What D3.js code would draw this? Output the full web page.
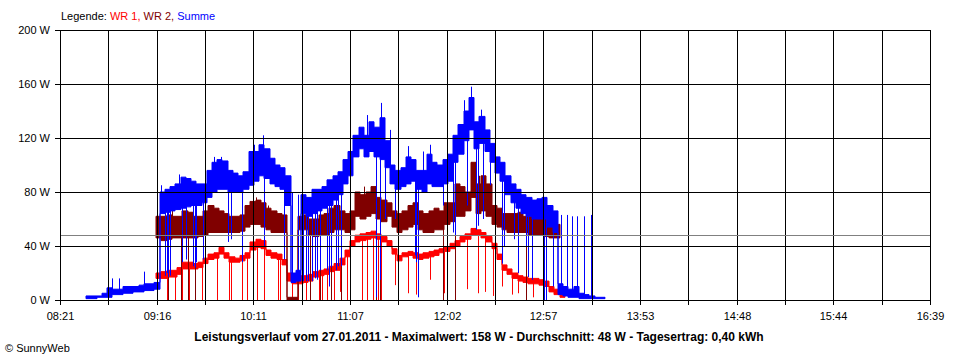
<!DOCTYPE html>
<html><head><meta charset="utf-8">
<script src="https://cdn.jsdelivr.net/npm/d3@7"></script>
<style>
body{margin:0;background:#fff;}
svg text{font-family:"Liberation Sans",Arial,sans-serif;}
</style></head><body>
<svg id="c" width="960" height="360"></svg>
<script>
// ---------- data ----------
const yTicks = [0, 40, 80, 120, 160, 200];
const xTickLabels = ["08:21","09:16","10:11","11:07","12:02","12:57","13:53","14:48","15:44","16:39"];
const stepMin = 3;

// Summe (blue): min/max per 3-minute bin
const sumStart = "08:36";
const sumLo = [1,1,2,2,2,4,4,5,5,6, 6,7,7,8,64,65,66,67,68,69,
  70,70,72,76,80,82,82,80,80,80, 82,85,88,92,90,86,84,82,70,13,
  14,64,62,64,66,68,70,74,78,86, 92,106,112,106,110,106,104,98,86,82,
  84,86,88,82,80,86,84,84,86,88, 102,108,118,126,112,116,110,102,94,88,
  78,72,68,64,62,60,60,60,54,50, 4,3,2,2,1,1,1,1,1];
const sumHi = [3,3,3,5,9,8,8,10,10,10, 11,12,12,13,80,82,84,86,91,90,
  88,86,86,96,102,104,103,96,94,92, 95,110,110,115,112,105,100,98,92,20,
  22,78,76,82,82,84,89,92,95,104, 110,122,128,122,132,128,135,118,100,96,
  98,106,104,96,96,108,102,100,104,108, 122,130,140,150,132,136,126,116,106,102,
  92,86,82,78,76,74,75,76,70,66, 12,10,8,10,5,4,3,2,2];

// WR 1 (red) and WR 2 (dark red)
const wrStart = "09:16";
const wr1Lo = [16,16,17,17,19,23,23,23,24,27, 30,31,34,31,28,28,29,31,37,39,
  38,33,31,30,26,14,12,12,13,14, 17,18,19,21,22,26,32,40,43,44,
  45,46,45,43,40,34,29,32,33,31, 30,31,32,33,35,36,38,40,43,45,
  48,48,46,43,38,30,22,19,16,14, 13,12,12,11,10,6,4,2];
const wr1Hi = [20,21,22,22,24,28,28,27,28,31, 34,35,39,35,32,31,33,35,43,45,
  44,37,35,34,30,20,18,18,18,19, 21,22,23,25,27,31,37,44,48,49,
  50,51,49,47,44,38,33,35,36,35, 34,35,36,37,38,39,42,44,47,49,
  53,52,50,47,42,34,26,23,20,18, 17,16,16,15,14,10,8,5];
const wr2Lo = [46,44,45,46,46,46,46,46,47,48, 50,50,50,50,50,50,51,54,56,56,
  54,52,50,50,50,0,0,52,52,48, 47,48,48,50,52,52,50,52,62,60,
  62,64,60,58,62,54,50,52,54,56, 52,50,50,52,52,56,58,62,62,66,
  76,64,66,62,56,54,52,50,50,50, 50,48,48,48,47,46,46];
const wr2Hi = [62,62,63,62,62,66,65,62,62,66, 70,68,66,64,62,62,63,70,73,74,
  72,68,66,64,63,2,2,62,63,60, 60,63,64,68,70,66,64,66,80,78,
  80,84,76,74,72,66,64,66,70,72, 66,64,66,68,66,72,72,86,84,80,
  102,86,92,86,70,68,64,64,64,65, 62,62,60,60,60,58,56];

// single short excursions (spikes / dips)
const sumSpikeTimes = ["08:51","08:55","09:09","09:19","09:21","09:22","09:23","09:24","09:29","09:31",
  "09:33","09:37","09:38","09:39","09:43","09:49","09:53","09:57","09:59","10:05",
  "10:12","10:17","10:18","10:20","10:29","10:34","10:37","10:40","10:42","10:43",
  "10:45","10:47","10:48","10:50","10:54","10:55","10:56","10:59","11:00","11:02",
  "11:07","11:12","11:17","11:22","11:24","11:25","11:27","11:30","11:33","11:40",
  "11:44","11:45","11:46","11:49","11:53","12:00","12:06","12:07","12:09","12:12",
  "12:14","12:16","12:19","12:20","12:22","12:23","12:27","12:34","12:35","12:41",
  "12:43","12:48","12:49","12:51","12:58","12:59","13:03","13:08","13:11","13:14",
  "13:17","13:21","13:25"];
const sumSpikeValues = [16,16,21,85,18,20,17,18,93,28,
  30,25,24,28,30,106,106,43,45,28,
  115,122,40,108,30,80,78,14,14,14,
  14,16,15,22,22,10,24,22,25,25,
  30,128,137,2,15,146,60,126,60,114,
  33,28,2,110,115,70,50,48,128,148,
  70,158,52,55,141,60,85,27,40,45,
  20,40,17,15,0,0,10,63,63,62,
  62,62,63];
const wr1DipTimes = ["09:22","09:27","09:31","09:35","09:42","09:51","09:58","09:59","10:05","10:08",
  "10:14","10:18","10:26","10:27","10:34","10:37","10:42","10:44","10:49","10:51",
  "10:54","10:58","11:01","11:05","11:07","11:14","11:17","11:20","11:22","11:23",
  "11:25","11:33","11:40","11:45","11:53","12:01","12:07","12:14","12:20","12:24",
  "12:29","12:34","12:40","12:43","12:48","12:52"];
const wr1DipValues = [0,0,0,0,0,0,0,0,0,0, 0,0,0,0,0,0,0,0,0,0,
  0,0,6,0,10,0,0,0,0,0, 0,11,5,4,15,5,3,8,5,6, 3,10,4,5,3,2];
const wr2DipTimes = ["09:23","09:25","09:30","09:34","09:38","09:47","10:13","10:20","10:44","10:50",
  "10:56","11:02","11:15","11:22","11:24","12:00","12:07","12:14","12:21","12:48"];
const wr2DipValues = [0,66,0,0,0,70,76,70,0,0, 0,0,84,0,0,0,0,104,92,0];

const averageW = 48;
const legendParts = [["Legende: ","#000"],["WR 1, ","#ff0000"],["WR 2, ","#800000"],["Summe","#0000ff"]];
const titleText = "Leistungsverlauf vom 27.01.2011 - Maximalwert: 158 W - Durchschnitt: 48 W - Tagesertrag: 0,40 kWh";
const creditText = "\u00A9 SunnyWeb";

// ---------- drawing ----------
const toMin = s => { const [h,m] = s.split(":").map(Number); return h*60+m; };
const svg = d3.select("#c");
const d0 = toMin(xTickLabels[0]), d1 = toMin(xTickLabels[xTickLabels.length-1]);
const x = d3.scaleLinear().domain([d0, d1]).range([60, 930]).interpolate(d3.interpolateRound);
const y = d3.scaleLinear().domain([0, 200]).range([300, 30]);
const gridVals = d3.range(19).map(i => d0 + i*(d1-d0)/18);

function bins(start, lo, hi){
  const s = toMin(start);
  const pts = lo.map((v,i)=>({t:s+i*stepMin, lo:v, hi:hi[i]}));
  pts.push({t:s+lo.length*stepMin, lo:lo[lo.length-1], hi:hi[hi.length-1]});
  return pts;
}
const area = d3.area().x(d=>x(d.t)).y0(d=>y(d.lo)).y1(d=>y(d.hi)).curve(d3.curveStepAfter);

function drawSeries(start, lo, hi, times, vals, color){
  const pts = bins(start, lo, hi);
  svg.append("path").datum(pts).attr("d", area)
    .attr("fill", color).attr("stroke", color).attr("stroke-width", 1);
  const s = toMin(start);
  svg.append("g").selectAll("line").data(times).join("line")
    .attr("x1", t => x(toMin(t))+0.5).attr("x2", t => x(toMin(t))+0.5)
    .attr("y1", t => { const k = Math.min(lo.length-1, Math.max(0, Math.floor((toMin(t)-s)/stepMin))); return y((lo[k]+hi[k])/2); })
    .attr("y2", (t,i) => y(vals[i]))
    .attr("stroke", color).attr("stroke-width", 1);
}
drawSeries(wrStart, wr1Lo, wr1Hi, wr1DipTimes, wr1DipValues, "#ff0000");
drawSeries(wrStart, wr2Lo, wr2Hi, wr2DipTimes, wr2DipValues, "#800000");
drawSeries(sumStart, sumLo, sumHi, sumSpikeTimes, sumSpikeValues, "#0000ff");

// grid
const grid = svg.append("g").attr("stroke", "#000").attr("stroke-width", 1).attr("shape-rendering","crispEdges");
grid.selectAll("line.h").data(yTicks).join("line").attr("class","h")
  .attr("x1", 60).attr("x2", 931).attr("y1", d=>y(d)+0.5).attr("y2", d=>y(d)+0.5);
grid.selectAll("line.v").data(gridVals).join("line").attr("class","v")
  .attr("x1", d=>x(d)+0.5).attr("x2", d=>x(d)+0.5).attr("y1", 30).attr("y2", 300);

// average line
svg.append("line").attr("x1", 60).attr("x2", 930)
  .attr("y1", Math.round(y(averageW))+0.5).attr("y2", Math.round(y(averageW))+0.5)
  .attr("stroke", "#808080").attr("stroke-width", 1).attr("shape-rendering","crispEdges");

// axes
const ax = svg.append("g").attr("transform","translate(0,300)")
  .call(d3.axisBottom(x).tickValues(gridVals).tickSize(5).tickSizeOuter(0).tickPadding(7)
    .tickFormat((d,i)=> i%2===0 ? xTickLabels[i/2] : ""));
const ay = svg.append("g").attr("transform","translate(60,0)")
  .call(d3.axisLeft(y).tickValues(yTicks).tickSize(5).tickSizeOuter(0).tickPadding(5)
    .tickFormat(d => d + " W"));
[ax, ay].forEach(g => {
  g.attr("font-family", "Liberation Sans, Arial, sans-serif").attr("font-size", 11);
  g.selectAll("line,path").attr("stroke", "#000").attr("shape-rendering","crispEdges");
  g.selectAll("text").attr("fill", "#000");
});

// legend
const lg = svg.append("text").attr("x", 61).attr("y", 20).attr("font-size", 11);
legendParts.forEach(([t,c]) => lg.append("tspan").attr("fill", c).text(t));

// title & credit
svg.append("text").attr("x", 479).attr("y", 341).attr("text-anchor","middle")
  .attr("font-size", 12).attr("font-weight","bold").text(titleText);
svg.append("text").attr("x", 5).attr("y", 352).attr("font-size", 11).text(creditText);
</script>
</body></html>
